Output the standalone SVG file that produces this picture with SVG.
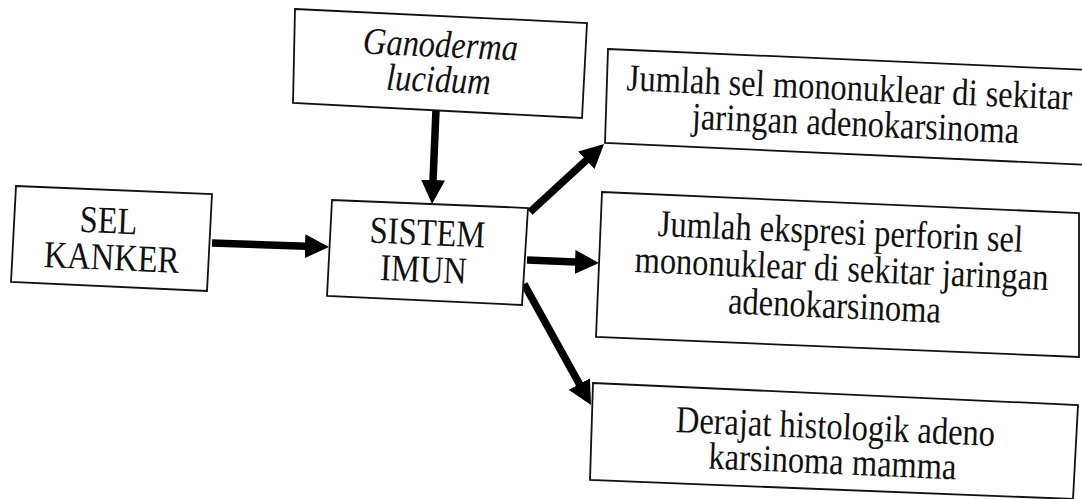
<svg xmlns="http://www.w3.org/2000/svg" width="1082" height="499" viewBox="0 0 1082 499">
  <defs>
    <style>
      .box { fill: #ffffff; stroke: #111111; stroke-width: 1.8; stroke-linejoin: miter; }
      .t { font-family: "Liberation Serif", "Times New Roman", serif; font-size: 32.5px; fill: #111111; text-anchor: middle; }
      .it { font-style: italic; }
      .conn { stroke: #000000; stroke-width: 7.5; fill: none; marker-end: url(#ah); }
    </style>
    <marker id="ah" markerUnits="userSpaceOnUse" viewBox="0 0 24 24" markerWidth="24" markerHeight="24" refX="1" refY="12" orient="auto">
      <path d="M0,0 L24,12 L0,24 z" fill="#000000"/>
    </marker>
  </defs>
  <rect width="1082" height="499" fill="#ffffff"/>

  <g id="connectors">
    <line class="conn" x1="212" y1="243" x2="306" y2="246.2"/>
    <line class="conn" x1="436" y1="110" x2="433" y2="181"/>
    <line class="conn" x1="530" y1="212" x2="587.1" y2="159.6"/>
    <line class="conn" x1="527" y1="260" x2="576" y2="262"/>
    <line class="conn" x1="524" y1="284" x2="579.9" y2="384.9"/>
  </g>

  <g id="ganoderma">
    <polygon class="box" points="295,9 587,23 582,118 293,103"/>
    <text class="t it" transform="translate(440,57) rotate(2.5) scale(1,1.17)">Ganoderma</text>
    <text class="t it" transform="translate(438,92) rotate(2.5) scale(1,1.17)">lucidum</text>
  </g>

  <g id="sel-kanker">
    <polygon class="box" points="16,186 212,194 207,291 11,282"/>
    <text class="t" transform="translate(108,233) rotate(2.5) scale(1,1.17)">SEL</text>
    <text class="t" transform="translate(111,270) rotate(2.5) scale(1,1.17)">KANKER</text>
  </g>

  <g id="sistem-imun">
    <polygon class="box" points="332,200 528,208 522,305 327,296"/>
    <text class="t" transform="translate(427,245) rotate(2.5) scale(1,1.17)">SISTEM</text>
    <text class="t" transform="translate(423,282) rotate(2.5) scale(1,1.17)">IMUN</text>
  </g>

  <g id="mononuklear">
    <polygon class="box" points="608,49 1090,70 1090,165 605,143"/>
    <text class="t" transform="translate(849,100) rotate(2.5) scale(1,1.17)">Jumlah sel mononuklear di sekitar</text>
    <text class="t" transform="translate(855,136) rotate(2.5) scale(1,1.17)">jaringan adenokarsinoma</text>
  </g>

  <g id="perforin">
    <polygon class="box" points="602,192 1079,213 1079,357 596,337"/>
    <text class="t" transform="translate(840,244) rotate(2.5) scale(1,1.17)">Jumlah ekspresi perforin sel</text>
    <text class="t" transform="translate(841,281) rotate(2.5) scale(1,1.17)">mononuklear di sekitar  jaringan</text>
    <text class="t" transform="translate(834,318) rotate(2.5) scale(1,1.17)">adenokarsinoma</text>
  </g>

  <g id="derajat">
    <polygon class="box" points="593,383 1078,405 1073,499 590,480"/>
    <text class="t" transform="translate(835,439) rotate(2.5) scale(1,1.17)">Derajat histologik adeno</text>
    <text class="t" transform="translate(832,474) rotate(2.5) scale(1,1.17)">karsinoma mamma</text>
  </g>
</svg>
